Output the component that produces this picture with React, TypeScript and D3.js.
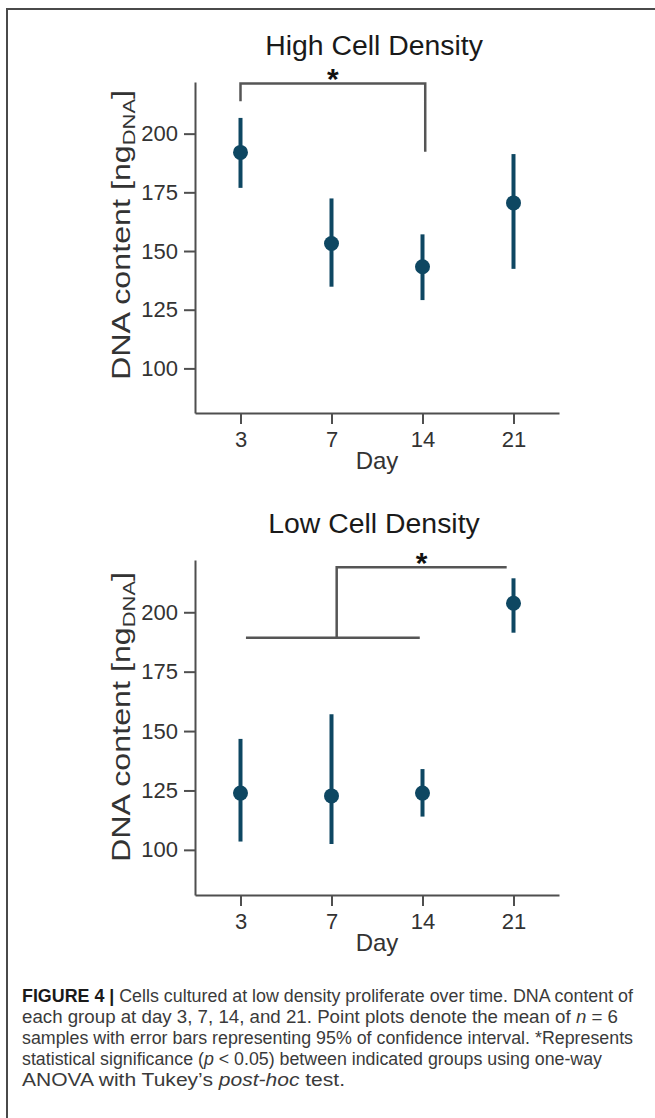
import { useEffect, useRef } from 'react';
import * as d3 from 'd3';

// Days on the x axis
const days = ['3', '7', '14', '21'];

// High cell density: mean and 95% CI
const highMean = [192, 153.2, 143.3, 170.5];
const highLo = [176.9, 134.8, 129.1, 142.4];
const highHi = [206.7, 172.4, 157.1, 191.3];

// Low cell density: mean and 95% CI
const lowMean = [123.9, 122.7, 123.9, 203.8];
const lowLo = [103.5, 102.5, 114, 191.4];
const lowHi = [146.7, 157.1, 134, 214.3];

const yTicks = [100, 125, 150, 175, 200];
const yDomain = [81, 222];

// significance brackets, as [category index, value]
const highBracket = [[0, 213.8], [0, 221.4], [2.03, 221.4], [2.03, 192.3]];
const lowBracketTop = [[1.057, 189.3], [1.057, 218.9], [2.925, 218.9]];
const lowBracketBase = [[0.06, 189.3], [1.97, 189.3]];

const captionLines = [
  { w: 611, parts: [{ t: 'FIGURE 4 | ', b: true }, { t: 'Cells cultured at low density proliferate over time. DNA content of' }] },
  { w: 596, parts: [{ t: 'each group at day 3, 7, 14, and 21. Point plots denote the mean of ' }, { t: 'n', i: true }, { t: ' = 6' }] },
  { w: 611, parts: [{ t: 'samples with error bars representing 95% of confidence interval. *Represents' }] },
  { w: 580, parts: [{ t: 'statistical significance (' }, { t: 'p', i: true }, { t: ' < 0.05) between indicated groups using one-way' }] },
  { w: 323, parts: [{ t: 'ANOVA with Tukey\u2019s ' }, { t: 'post-hoc', i: true }, { t: ' test.' }] },
];

const FONT = '"Liberation Sans", Arial, Helvetica, sans-serif';
const POINT = '#0e4762';
const AXIS = '#4f4f4f';

export default function App() {
  const svgRef = useRef<SVGSVGElement>(null);

  useEffect(() => {
    if (!svgRef.current) return;
    const svg = d3.select(svgRef.current);
    svg.selectAll('*').remove();

    // page frame (top + left rule)
    svg.append('path')
      .attr('d', 'M7,1118V9H655')
      .attr('fill', 'none')
      .attr('stroke', '#4a4a4a')
      .attr('stroke-width', 2);

    const panel = (
      title: string, top: number, bottom: number,
      mean: number[], lo: number[], hi: number[],
      brackets: number[][][], star: number[], labelY: number
    ) => {
      const left = 195, right = 559;
      const x = d3.scalePoint().domain(days).range([left, right]).padding(0.5);
      const xi = d3.scaleLinear().domain([-0.5, days.length - 0.5]).range([left, right]);
      const y = d3.scaleLinear().domain(yDomain).range([bottom, top]);

      const g = svg.append('g').style('font-family', FONT);

      // title
      g.append('text')
        .attr('x', (left + right) / 2 - 3)
        .attr('y', top - 27)
        .attr('text-anchor', 'middle')
        .style('font-size', '28.4px')
        .style('fill', '#1a1a1a')
        .text(title);

      // axes
      const ya = g.append('g')
        .attr('transform', `translate(${left},0)`)
        .call(d3.axisLeft(y).tickValues(yTicks).tickSize(11).tickSizeOuter(0).tickPadding(6));
      const xa = g.append('g')
        .attr('transform', `translate(0,${bottom})`)
        .call(d3.axisBottom(x).tickSize(11).tickSizeOuter(0).tickPadding(7));
      [ya, xa].forEach(a => {
        a.selectAll('.domain, .tick line').attr('stroke', AXIS).attr('stroke-width', 2);
        a.selectAll('text').style('font-size', '22px').style('font-family', FONT).attr('fill', '#333');
      });

      // axis labels
      g.append('text')
        .attr('x', (left + right) / 2)
        .attr('y', bottom + 55.5)
        .attr('text-anchor', 'middle')
        .style('font-size', '24px')
        .style('fill', '#333')
        .text('Day');

      const yl = g.append('text')
        .attr('transform', `translate(130,${labelY}) rotate(-90)`)
        .attr('text-anchor', 'middle')
        .attr('textLength', 290)
        .attr('lengthAdjust', 'spacingAndGlyphs')
        .style('font-size', '25px')
        .style('fill', '#333');
      yl.append('tspan').text('DNA content [ng');
      yl.append('tspan').attr('dy', 5).style('font-size', '17px').text('DNA');
      yl.append('tspan').attr('dy', -5).text(']');

      // brackets
      const line = d3.line<number[]>().x(d => xi(d[0])).y(d => y(d[1]));
      brackets.forEach(b => {
        g.append('path')
          .attr('d', line(b))
          .attr('fill', 'none')
          .attr('stroke', '#555')
          .attr('stroke-width', 2.5);
      });
      g.append('text')
        .attr('x', xi(star[0]))
        .attr('y', y(star[1]))
        .attr('text-anchor', 'middle')
        .style('font-size', '30px')
        .style('font-weight', 'bold')
        .style('fill', '#111')
        .text('*');

      // error bars and points
      g.selectAll('.err')
        .data(days)
        .enter()
        .append('line')
        .attr('x1', d => x(d)!)
        .attr('x2', d => x(d)!)
        .attr('y1', (d, i) => y(lo[i]))
        .attr('y2', (d, i) => y(hi[i]))
        .attr('stroke', POINT)
        .attr('stroke-width', 4);
      g.selectAll('.pt')
        .data(days)
        .enter()
        .append('circle')
        .attr('cx', d => x(d)!)
        .attr('cy', (d, i) => y(mean[i]))
        .attr('r', 7.5)
        .attr('fill', POINT);
    };

    panel('High Cell Density', 82, 413, highMean, highLo, highHi, [highBracket], [1.015, 219.0], 235);
    panel('Low Cell Density', 560, 895, lowMean, lowLo, lowHi, [lowBracketTop, lowBracketBase], [1.99, 216.7], 717);

    // caption
    const cap = svg.append('g').style('font-family', FONT).style('font-size', '17.5px');
    captionLines.forEach((ln, i) => {
      const t = cap.append('text')
        .attr('x', 22)
        .attr('y', 1001.5 + i * 21.2)
        .attr('textLength', ln.w)
        .attr('lengthAdjust', 'spacingAndGlyphs')
        .style('fill', '#3a3a3a');
      ln.parts.forEach((p: any) => {
        t.append('tspan')
          .style('font-weight', p.b ? 'bold' : 'normal')
          .style('font-style', p.i ? 'italic' : 'normal')
          .style('fill', p.b ? '#1a1a1a' : '#3a3a3a')
          .text(p.t);
      });
    });
  }, []);

  return (
    <svg
      ref={svgRef}
      width={655}
      height={1118}
      style={{ position: 'absolute', left: 0, top: 0, background: '#fff' }}
    />
  );
}
